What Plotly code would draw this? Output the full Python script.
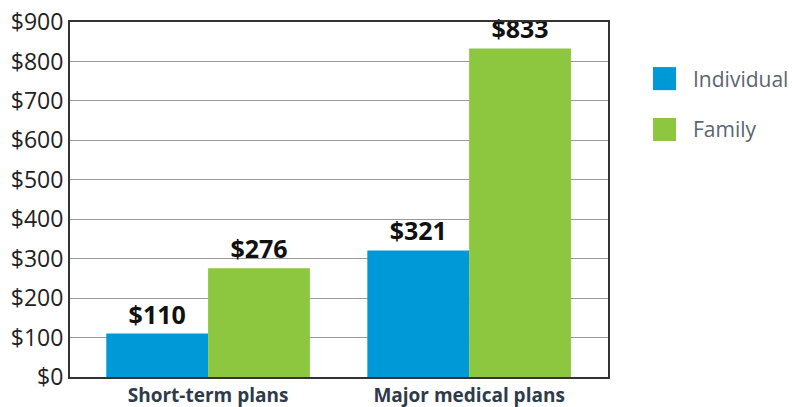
import plotly.graph_objects as go

categories = ["Short-term plans", "Major medical plans"]
individual = [110, 321]
family = [276, 833]
series_names = ["Individual", "Family"]
colors = ["#0099d8", "#8dc63f"]
y_ticks = [0, 100, 200, 300, 400, 500, 600, 700, 800, 900]
y_tick_labels = ["$" + str(v) for v in y_ticks]

FONT = "Open Sans"

fig = go.Figure()
for name, vals, col in zip(series_names, [individual, family], colors):
    fig.add_trace(go.Bar(
        x=categories, y=vals, name=name, marker=dict(color=col, line=dict(width=0)),
        text=["$" + str(v) for v in vals], textposition="outside",
        textfont=dict(family=FONT, size=25, color="#111111", weight="bold"),
        cliponaxis=False, showlegend=False, hoverinfo="skip",
    ))

fig.update_layout(
    width=792, height=407,
    margin=dict(l=70, r=184, t=22, b=30),
    paper_bgcolor="white", plot_bgcolor="white",
    barmode="group", bargap=0.22, bargroupgap=0,
    showlegend=False,
    xaxis=dict(range=[-0.529, 1.532], showgrid=False, ticks="", automargin=False,
               tickfont=dict(family=FONT, size=19, color="#2d3b4b", weight="bold"),
               showline=True, linecolor="#333333", linewidth=2, mirror=True),
    yaxis=dict(range=[0, 900], tickvals=y_ticks, ticktext=y_tick_labels, automargin=False,
               showgrid=True, gridcolor="#999999", gridwidth=1, ticks="",
               tickfont=dict(family=FONT, size=23, color="#222222"),
               showline=True, linecolor="#333333", linewidth=2, mirror=True,
               zeroline=False),
)

# legend drawn manually
legend_y = [(0.873, 0.808), (0.7296, 0.6648)]
for (y1, y0), name, col in zip(legend_y, series_names, colors):
    fig.add_shape(type="rect", xref="paper", yref="paper", x0=1.0836, x1=1.1264,
                  y0=y0, y1=y1, fillcolor=col, line=dict(width=0))
    fig.add_annotation(xref="paper", yref="paper", x=1.1543, y=(y0 + y1) / 2,
                       text=name, showarrow=False, xanchor="left", yanchor="middle",
                       font=dict(family=FONT, size=21, color="#5b6670"))

fig.write_html("out.html", config={"displayModeBar": False},
               post_script="document.body.style.margin='0';")
